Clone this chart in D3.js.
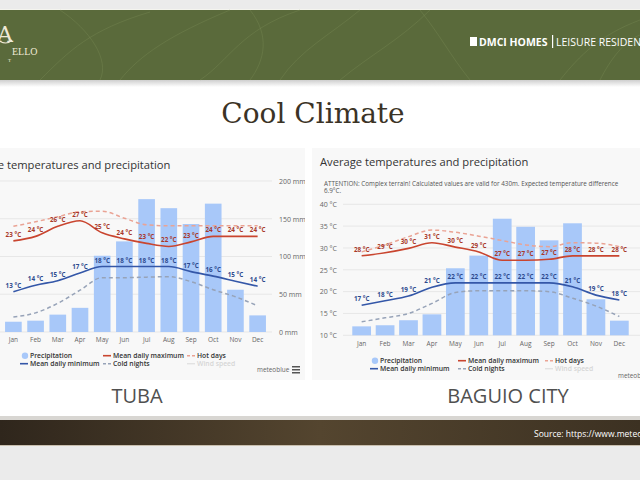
<!DOCTYPE html>
<html><head><meta charset="utf-8">
<script src="https://cdn.jsdelivr.net/npm/d3@7"></script>
<style>html,body{margin:0;padding:0;background:#ebebeb;}svg{display:block;}</style>
</head><body>
<svg id="c" width="640" height="480"></svg>
<script>
// ---------- data ----------
const months = ["Jan","Feb","Mar","Apr","May","Jun","Jul","Aug","Sep","Oct","Nov","Dec"];

const tubaPrecip = [13.6, 15, 23, 32, 101, 120, 176, 164, 143, 170, 56, 22];
const tubaMax    = [23.1, 24, 26, 27.1, 24.7, 23.5, 22.6, 22, 22.9, 24, 24, 24];
const tubaMin    = [13, 14.3, 15.2, 16.7, 18, 18, 18, 18, 17, 16.1, 15.1, 14.1];
const tubaHot    = [26, 26.9, 27.9, 28.9, 29, 27.6, 26.3, 26.1, 26.1, 26.1, 26.1, 26.1];
const tubaCold   = [8, 8.8, 10.7, 13.3, 15.8, 15.8, 15.9, 16, 15, 13.4, 12, 10.2];
const tubaPrecipTicks = [0, 50, 100, 150, 200];

const baguioPrecip = [41, 46, 69, 96, 307, 365, 534, 497, 435, 513, 165, 67];
const baguioMax    = [28.2, 28.9, 29.9, 31.2, 30.2, 29.1, 27.2, 27.2, 27.4, 28.2, 28.2, 28.2];
const baguioMin    = [16.9, 17.9, 19, 21, 22, 22, 22, 22, 22, 21.1, 19.2, 18.1];
const baguioHot    = [29.1, 30.7, 32.6, 34.1, 33.6, 32.7, 31.7, 30.7, 30.3, 31.2, 31.1, 30.3];
const baguioCold   = [13.1, 14, 15, 17.3, 19.8, 20.2, 20.2, 20.2, 20, 18.5, 16.7, 14.3];
const baguioTempTicks = [10, 15, 20, 25, 30, 35, 40];

const legendItems = ["Precipitation","Mean daily minimum","Mean daily maximum","Cold nights","Hot days","Wind speed"];
const chartTitle = "Average temperatures and precipitation";
const attention = "ATTENTION: Complex terrain! Calculated values are valid for 430m. Expected temperature difference";
const attention2 = "6.9°C.";

// ---------- page ----------
const svg = d3.select("#c");
const F = "'Open Sans', sans-serif";
const defs = svg.append("defs");

svg.append("rect").attr("width",640).attr("height",480).attr("fill","#ebebeb");
// slide white area
svg.append("rect").attr("x",0).attr("y",80).attr("width",640).attr("height",340).attr("fill","#ffffff");
const sh = defs.append("linearGradient").attr("id","shadow").attr("x1",0).attr("x2",0).attr("y1",0).attr("y2",1);
sh.append("stop").attr("offset",0).attr("stop-color","#cfcfcf");
sh.append("stop").attr("offset",1).attr("stop-color","#ffffff");
svg.append("rect").attr("x",0).attr("y",80).attr("width",640).attr("height",7).attr("fill","url(#shadow)");

// banner
svg.append("rect").attr("x",0).attr("y",9).attr("width",640).attr("height",2).attr("fill","#f4f4ee");
svg.append("rect").attr("x",0).attr("y",10).attr("width",640).attr("height",70).attr("fill","#5a6a3b");
const leaf = svg.append("g").attr("fill","none").attr("stroke","#7b8d56").attr("stroke-opacity",0.45).attr("stroke-width",0.8);
["M40,80 C70,50 90,30 150,12","M120,80 C140,55 170,35 230,10","M200,80 C230,60 240,30 300,10",
 "M280,80 C300,50 330,35 360,10","M340,80 C370,55 400,40 430,10","M560,80 C580,55 600,35 640,20",
 "M600,80 C610,60 625,40 640,35","M60,10 C90,30 110,60 100,80","M250,10 C270,35 265,60 250,80",
 "M420,10 C440,35 450,55 470,80"].forEach(d=>leaf.append("path").attr("d",d));
// logo fragments
svg.append("text").attr("x",-3).attr("y",42).attr("font-family","'DejaVu Serif', serif").attr("font-size",22)
  .attr("fill","#efe9d6").text("A");
svg.append("path").attr("d","M-2,40 Q6,46 12,40").attr("fill","none").attr("stroke","#efe9d6").attr("stroke-width",1.2);
svg.append("text").attr("x",12).attr("y",55).attr("font-family","'Liberation Serif', serif").attr("font-size",10)
  .attr("fill","#efe9d6").text("ELLO");
svg.append("text").attr("x",8).attr("y",62).attr("font-family","'Liberation Serif', serif").attr("font-size",5)
  .attr("fill","#efe9d6").text("T");
// brand text
svg.append("rect").attr("x",470).attr("y",37).attr("width",7).attr("height",9).attr("fill","#ffffff");
svg.append("text").attr("x",479).attr("y",45.5).attr("font-family",F).attr("font-size",10.5).attr("font-weight",700)
  .attr("fill","#ffffff").text("DMCI HOMES");
svg.append("rect").attr("x",552).attr("y",35).attr("width",1.2).attr("height",13).attr("fill","#ffffff");
svg.append("text").attr("x",556).attr("y",45.5).attr("font-family",F).attr("font-size",10.5)
  .attr("fill","#ffffff").text("LEISURE RESIDENCES");

// title
svg.append("text").attr("x",313).attr("y",123).attr("text-anchor","middle")
  .attr("font-family","'DejaVu Serif', serif").attr("font-size",28).attr("fill","#3b3326").text("Cool Climate");

// bottom brown band
const bg2 = defs.append("linearGradient").attr("id","brown").attr("x1",0).attr("x2",1);
bg2.append("stop").attr("offset",0).attr("stop-color","#2f261c");
bg2.append("stop").attr("offset",0.5).attr("stop-color","#54452f");
bg2.append("stop").attr("offset",1).attr("stop-color","#3c3122");
svg.append("rect").attr("x",0).attr("y",416).attr("width",640).attr("height",4).attr("fill","#d8d6d2");
svg.append("rect").attr("x",0).attr("y",420).attr("width",640).attr("height",25).attr("fill","url(#brown)");
svg.append("rect").attr("x",0).attr("y",445).attr("width",640).attr("height",1).attr("fill","#c9bfae");
svg.append("text").attr("x",534).attr("y",437).attr("font-family",F).attr("font-size",8.5).attr("fill","#ffffff")
  .text("Source: https://www.meteoblue.com");

// city labels
svg.append("text").attr("x",137).attr("y",403).attr("text-anchor","middle").attr("font-family",F)
  .attr("font-size",20).attr("fill","#505050").text("TUBA");
svg.append("text").attr("x",508).attr("y",403).attr("text-anchor","middle").attr("font-family",F)
  .attr("font-size",20).attr("fill","#505050").text("BAGUIO CITY");

// ---------- charts ----------
const C = {bar:"#a8c8f9", max:"#c9452f", min:"#3457a8", hot:"#eaa394", cold:"#97a3b8",
           maxLab:"#a8382a", minLab:"#2d4a8e", grid:"#e7e7e7", axis:"#666"};

function drawChart(o){
  const g = svg.append("g");
  g.append("rect").attr("x",o.panel[0]).attr("y",148).attr("width",o.panel[1]-o.panel[0]).attr("height",232).attr("fill","#f8f8f8");
  const clipId = "clip"+o.id;
  defs.append("clipPath").attr("id",clipId).append("rect")
    .attr("x",o.panel[0]).attr("y",148).attr("width",o.panel[1]-o.panel[0]).attr("height",232);
  const p = g.append("g").attr("clip-path",`url(#${clipId})`);

  p.append("text").attr("x",o.titleX).attr("y",o.titleY).attr("font-family",F).attr("font-size",11.2)
    .attr("fill","#333").text(chartTitle);

  const x = d3.scaleBand().domain(months).range(o.xr).padding(o.pad);
  const bw = x.bandwidth();
  const cx = i => x(months[i]) + bw/2;
  const t = d3.scaleLinear().domain(o.tDom).range([o.y0,o.y1]);
  const pr = d3.scaleLinear().domain(o.pDom).range([o.y0,o.y1]);
  const gy = d => o.gridScale==="t" ? t(d) : pr(d);

  // grid
  p.append("g").selectAll("line").data(o.gridVals).join("line")
    .attr("x1",o.grid[0]).attr("x2",o.grid[1]).attr("y1",gy).attr("y2",gy)
    .attr("stroke",C.grid).attr("stroke-width",1);

  // value axis labels
  const ax = o.gridScale==="p"
    ? d3.axisRight(pr).tickValues(o.gridVals).tickSize(0).tickPadding(0).tickFormat(d=>d+" mm")
    : d3.axisLeft(t).tickValues(o.gridVals).tickSize(0).tickPadding(0).tickFormat(d=>d+" °C");
  const ag = p.append("g").attr("transform",`translate(${o.axisX},0)`).call(ax);
  ag.select(".domain").remove();
  ag.selectAll("text").attr("font-family",F).attr("font-size",7).attr("fill",C.axis);

  // month axis
  const mg = p.append("g").attr("transform",`translate(0,${o.monthY})`).call(d3.axisBottom(x).tickSize(0).tickPadding(0));
  mg.select(".domain").remove();
  mg.selectAll("text").attr("font-family",F).attr("font-size",6.5).attr("fill",C.axis);

  // bars
  p.append("g").selectAll("rect").data(o.precip).join("rect")
    .attr("x",(d,i)=>x(months[i])).attr("width",bw)
    .attr("y",d=>pr(d)).attr("height",d=>o.y0-pr(d)).attr("fill",C.bar);

  const line = d3.line().x((d,i)=>cx(i)).y(d=>t(d)).curve(d3.curveMonotoneX);
  p.append("path").datum(o.cold).attr("d",line).attr("fill","none").attr("stroke",C.cold).attr("stroke-width",1.5).attr("stroke-dasharray","4,3");
  p.append("path").datum(o.hot).attr("d",line).attr("fill","none").attr("stroke",C.hot).attr("stroke-width",1.5).attr("stroke-dasharray","4,3");
  p.append("path").datum(o.max).attr("d",line).attr("fill","none").attr("stroke",C.max).attr("stroke-width",1.6);
  p.append("path").datum(o.min).attr("d",line).attr("fill","none").attr("stroke",C.min).attr("stroke-width",1.6);

  const lab = (arr,col)=>p.append("g").selectAll("text").data(arr).join("text")
    .attr("x",(d,i)=>cx(i)).attr("y",d=>t(d)-4).attr("text-anchor","middle")
    .attr("font-family",F).attr("font-size",6.3).attr("font-weight",700).attr("fill",col)
    .text(d=>Math.round(d)+" °C");
  lab(o.max,C.maxLab);
  lab(o.min,C.minLab);

  // legend
  const L = o.leg;
  const lg = p.append("g").attr("font-family",F).attr("font-size",6.8).attr("font-weight",600).attr("fill","#333");
  lg.append("circle").attr("cx",L.c1-5).attr("cy",L.r1-2.3).attr("r",3.2).attr("fill",C.bar);
  lg.append("text").attr("x",L.c1).attr("y",L.r1).text(legendItems[0]);
  lg.append("line").attr("x1",L.c1-10).attr("x2",L.c1-2).attr("y1",L.r2-2.3).attr("y2",L.r2-2.3).attr("stroke",C.min).attr("stroke-width",1.6);
  lg.append("text").attr("x",L.c1).attr("y",L.r2).text(legendItems[1]);
  lg.append("line").attr("x1",L.c2-10).attr("x2",L.c2-2).attr("y1",L.r1-2.3).attr("y2",L.r1-2.3).attr("stroke",C.max).attr("stroke-width",1.6);
  lg.append("text").attr("x",L.c2).attr("y",L.r1).text(legendItems[2]);
  lg.append("line").attr("x1",L.c2-10).attr("x2",L.c2-2).attr("y1",L.r2-2.3).attr("y2",L.r2-2.3).attr("stroke",C.cold).attr("stroke-width",1.4).attr("stroke-dasharray","3,2");
  lg.append("text").attr("x",L.c2).attr("y",L.r2).text(legendItems[3]);
  lg.append("line").attr("x1",L.c3-10).attr("x2",L.c3-2).attr("y1",L.r1-2.3).attr("y2",L.r1-2.3).attr("stroke",C.hot).attr("stroke-width",1.4).attr("stroke-dasharray","3,2");
  lg.append("text").attr("x",L.c3).attr("y",L.r1).text(legendItems[4]);
  lg.append("line").attr("x1",L.c3-10).attr("x2",L.c3-2).attr("y1",L.r2-2.3).attr("y2",L.r2-2.3).attr("stroke","#e2e2e2").attr("stroke-width",1.4);
  lg.append("text").attr("x",L.c3).attr("y",L.r2).attr("fill","#d6d6d6").text(legendItems[5]);

  p.append("text").attr("x",o.mbX).attr("y",o.mbY).attr("font-family",F).attr("font-size",6.4).attr("fill","#666").text("meteoblue");
  if(o.menu){
    [0,3,6].forEach(k=>p.append("rect").attr("x",o.menu[0]).attr("y",o.menu[1]+k).attr("width",8).attr("height",1.5).attr("fill","#555"));
  }
  return p;
}

drawChart({id:"L", panel:[0,305], titleX:-38, titleY:169, xr:[-0.5,271.5], pad:0.25,
  tDom:[5,35], pDom:[0,200], y0:332, y1:181, gridVals:tubaPrecipTicks, gridScale:"p", grid:[0,272], axisX:279,
  monthY:337, precip:tubaPrecip, max:tubaMax, min:tubaMin, hot:tubaHot, cold:tubaCold,
  leg:{c1:30,c2:113,c3:197,r1:358,r2:366}, mbX:257, mbY:372, menu:[292,366]});

const pr = drawChart({id:"R", panel:[312,640], titleX:320, titleY:166, xr:[347.6,633.4], pad:0.2,
  tDom:[10,40], pDom:[0,600], y0:335.3, y1:204.3, gridVals:baguioTempTicks, gridScale:"t", grid:[343,640], axisX:337,
  monthY:341, precip:baguioPrecip, max:baguioMax, min:baguioMin, hot:baguioHot, cold:baguioCold,
  leg:{c1:380,c2:468,c3:555,r1:363,r2:371}, mbX:618, mbY:378, menu:null});
pr.append("text").attr("x",324).attr("y",185.5).attr("font-family",F).attr("font-size",6.3).attr("fill","#555").text(attention);
pr.append("text").attr("x",324).attr("y",193).attr("font-family",F).attr("font-size",6.3).attr("fill","#555").text(attention2);
</script>
</body></html>
